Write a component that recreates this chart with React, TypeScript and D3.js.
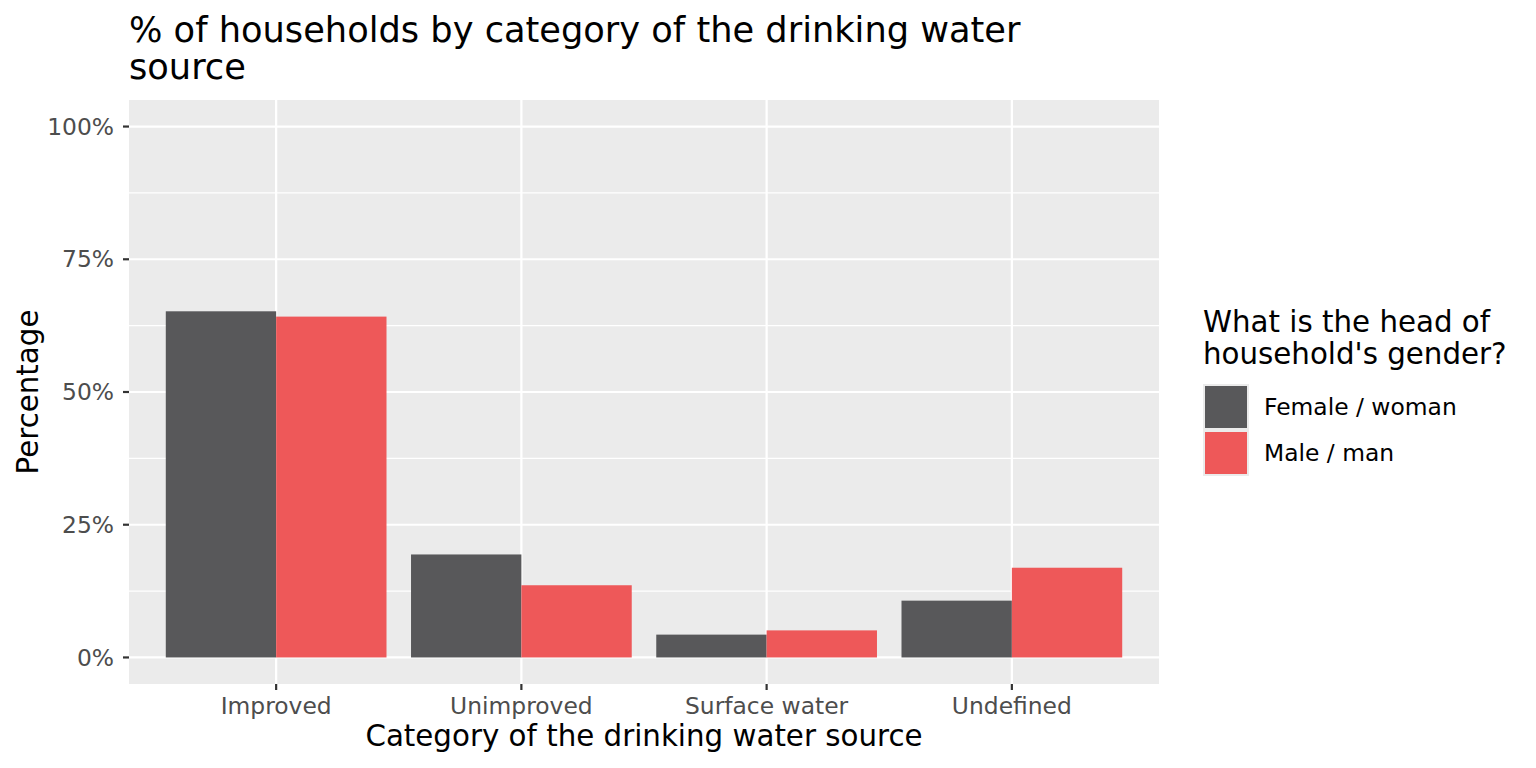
import React from "react";
import * as d3 from "d3";

const categories = ["Improved", "Unimproved", "Surface water", "Undefined"];
const groups = ["Female / woman", "Male / man"];
const femaleValues = [65.2, 19.4, 4.3, 10.7];
const maleValues = [64.2, 13.6, 5.1, 16.9];
const yTicks = [0, 25, 50, 75, 100];
const yMinor = [12.5, 37.5, 62.5, 87.5];
const colors = ["#58585A", "#EE5859"];

const W = 1536, H = 768;
const panel = { x0: 129, x1: 1159, y0: 100, y1: 684 };
const FONT = "DejaVu Sans, Liberation Sans, sans-serif";
const FT = 35.2, FA = 29.3, FK = 23.4;

export default function App() {
  const x = d3.scaleLinear().domain([0.4, 4.6]).range([panel.x0, panel.x1]);
  const y = d3.scaleLinear().domain([-5, 105]).range([panel.y1, panel.y0]);
  const series = [femaleValues, maleValues];
  const bw = 0.45;

  return (
    <svg width={W} height={H} style={{ position: "absolute", left: 0, top: 0 }} fontFamily={FONT}>
      <rect x={0} y={0} width={W} height={H} fill="#fff" />
      <text x={129} y={42} fontSize={FT} fill="#000">% of households by category of the drinking water</text>
      <text x={129} y={79} fontSize={FT} fill="#000">source</text>
      <rect x={panel.x0} y={panel.y0} width={panel.x1 - panel.x0} height={panel.y1 - panel.y0} fill="#EBEBEB" />
      {yMinor.map((t) => (
        <line key={"m" + t} x1={panel.x0} x2={panel.x1} y1={y(t)} y2={y(t)} stroke="#fff" strokeWidth={1.1} />
      ))}
      {yTicks.map((t) => (
        <line key={"g" + t} x1={panel.x0} x2={panel.x1} y1={y(t)} y2={y(t)} stroke="#fff" strokeWidth={2.2} />
      ))}
      {categories.map((c, i) => (
        <line key={"v" + c} x1={x(i + 1)} x2={x(i + 1)} y1={panel.y0} y2={panel.y1} stroke="#fff" strokeWidth={2.2} />
      ))}
      {categories.map((c, i) =>
        series.map((vals, g) => {
          const xs = i + 1 - bw + g * bw;
          return (
            <rect
              key={c + g}
              x={x(xs)}
              width={x(xs + bw) - x(xs)}
              y={y(vals[i])}
              height={y(0) - y(vals[i])}
              fill={colors[g]}
            />
          );
        })
      )}
      {yTicks.map((t) => (
        <g key={"yt" + t}>
          <line x1={panel.x0 - 6} x2={panel.x0} y1={y(t)} y2={y(t)} stroke="#333" strokeWidth={2.2} />
          <text x={panel.x0 - 15} y={y(t)} dy="0.35em" textAnchor="end" fontSize={FK} fill="#4D4D4D">{t + "%"}</text>
        </g>
      ))}
      {categories.map((c, i) => (
        <g key={"xt" + c}>
          <line x1={x(i + 1)} x2={x(i + 1)} y1={panel.y1} y2={panel.y1 + 6} stroke="#333" strokeWidth={2.2} />
          <text x={x(i + 1)} y={714} textAnchor="middle" fontSize={FK} fill="#4D4D4D">{c}</text>
        </g>
      ))}
      <text x={(panel.x0 + panel.x1) / 2} y={746} textAnchor="middle" fontSize={FA} fill="#000">Category of the drinking water source</text>
      <text transform={`translate(38,${(panel.y0 + panel.y1) / 2}) rotate(-90)`} textAnchor="middle" fontSize={FA} fill="#000">Percentage</text>
      <text x={1203} y={332} fontSize={FA} fill="#000">What is the head of</text>
      <text x={1203} y={364} fontSize={FA} fill="#000">household's gender?</text>
      {groups.map((g, i) => (
        <g key={g}>
          <rect x={1203} y={384 + i * 46} width={46} height={46} fill="#EBEBEB" />
          <rect x={1205} y={386 + i * 46} width={42} height={42} fill={colors[i]} />
          <text x={1264} y={407 + i * 46} dy="0.35em" fontSize={FK} fill="#000">{g}</text>
        </g>
      ))}
    </svg>
  );
}
